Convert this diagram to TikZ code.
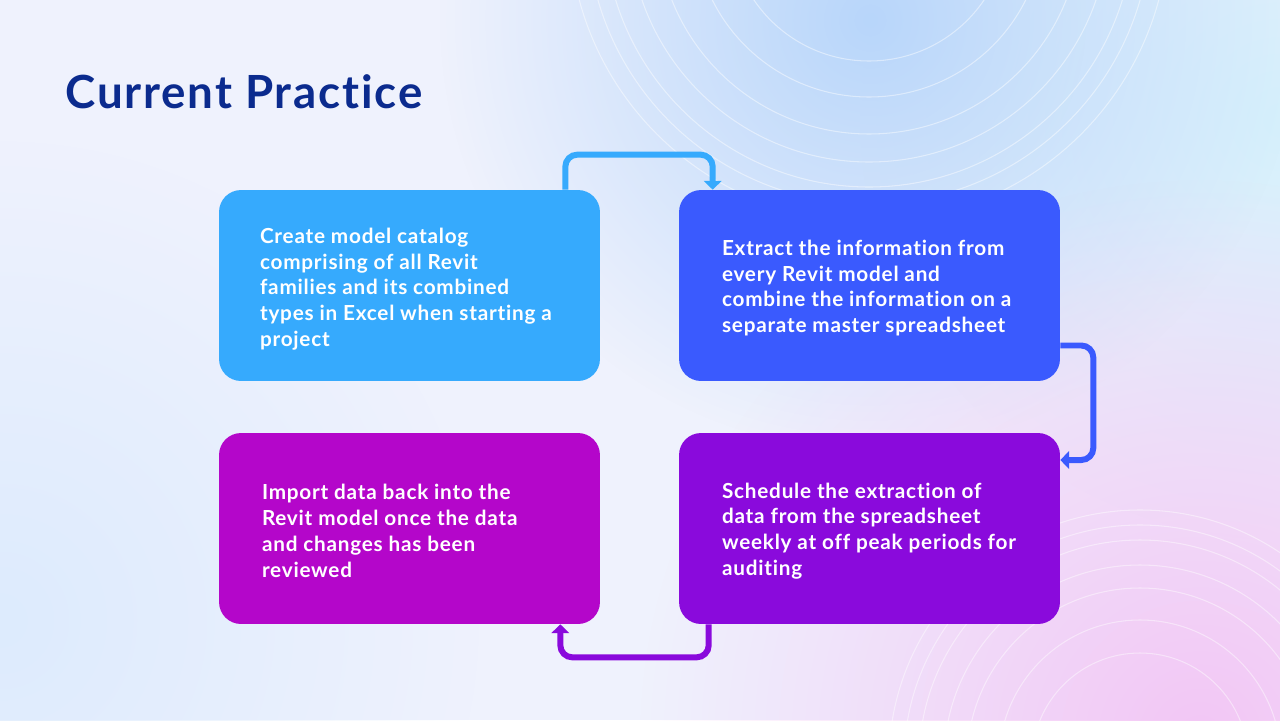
\documentclass[tikz,border=0pt]{standalone}
\usepackage{fontspec}
\setmainfont{Lato}[Ligatures=NoCommon]
\newfontfamily\cardfont{Lato}[LetterSpace=3.7, Ligatures=NoCommon]
\newfontfamily\headfont{Lato}[LetterSpace=4, Ligatures=NoCommon]
\usetikzlibrary{arrows.meta,fadings}
\definecolor{titleblue}{HTML}{0B2B8E}
\definecolor{cardsky}{HTML}{36AAFD}
\definecolor{cardblue}{HTML}{3A5AFE}
\definecolor{cardmagenta}{HTML}{B406CA}
\definecolor{cardviolet}{HTML}{8A0ADC}
\definecolor{bgbase}{HTML}{EFF2FD}
\definecolor{bgblue}{HTML}{B8D6FA}
\definecolor{bgcyan}{HTML}{D6F0FC}
\definecolor{bgpink}{HTML}{F3C6F5}
\definecolor{bgleft}{HTML}{DDEBFD}
\tikzfading[name=glow, inner color=transparent!0, outer color=transparent!100]
\begin{document}
\begin{tikzpicture}[x=0.02cm,y=-0.02cm,
  card/.style={rounded corners=0.44cm, minimum width=7.62cm, minimum height=3.82cm, inner sep=0pt},
  cardtext/.style={anchor=west, align=left, text=white, inner sep=0pt,
    font=\cardfont\bfseries\fontsize{11.8}{14.7}\selectfont},
  flow/.style={line width=3.4pt, rounded corners=0.24cm, -{Triangle[width=10pt,length=5pt]}},
  ring/.style={white, opacity=0.45, line width=0.6pt}]
\useasboundingbox (0,0) rectangle (1280,720);

\begin{scope}
\clip (0,0) rectangle (1280,720);
\fill[bgbase] (0,0) rectangle (1280,720);
\fill[bgleft, path fading=glow] (0,620) circle (480);
\fill[bgcyan, path fading=glow] (1280,120) circle (420);
\fill[bgblue, path fading=glow] (870,20) circle (430);
\fill[bgpink, path fading=glow] (1200,740) circle (560);
\foreach \r in {139,175,212,240,265,282,300}
  \draw[ring] (869,-78) circle (\r);
\foreach \r in {108,141,173,196,221,236,251}
  \draw[ring] (1140,761) circle (\r);
\end{scope}

\node[anchor=base west, text=titleblue, inner sep=0pt,
  font=\headfont\bfseries\fontsize{26}{30}\selectfont] (heading) at (65,108) {Current Practice};

\node[card, fill=cardsky] (catalog) at (409.5,285.5) {};
\node[card, fill=cardblue] (extract) at (869.5,285.5) {};
\node[card, fill=cardmagenta] (import) at (409.5,528.5) {};
\node[card, fill=cardviolet] (schedule) at (869.5,528.5) {};

\node[cardtext] (catalogtxt) at ([xshift=0.82cm,yshift=-0.07cm]catalog.west)
  {Create model catalog\\comprising of all Revit\\families and its combined\\types in Excel when starting a\\project};
\node[cardtext] (extracttxt) at ([xshift=0.86cm,yshift=-0.05cm]extract.west)
  {Extract the information from\\every Revit model and\\combine the information on a\\separate master spreadsheet};
\node[cardtext] (importtxt) at ([xshift=0.86cm,yshift=-0.05cm]import.west)
  {Import data back into the\\Revit model once the data\\and changes has been\\reviewed};
\node[cardtext] (scheduletxt) at ([xshift=0.86cm,yshift=-0.05cm]schedule.west)
  {Schedule the extraction of\\data from the spreadsheet\\weekly at off peak periods for\\auditing};

\draw[flow, cardsky] ([xshift=-0.7cm]catalog.north east) -- ++(0,-35) -| ([xshift=0.68cm]extract.north west);
\draw[flow, cardblue] ([yshift=-1.2cm]extract.east) -- ++(33,0) |- ([yshift=1.37cm]schedule.east);
\draw[flow, cardviolet] ([xshift=0.6cm]schedule.south west) -- ++(0,33) -| ([xshift=-0.8cm]import.south east);
\end{tikzpicture}
\end{document}
